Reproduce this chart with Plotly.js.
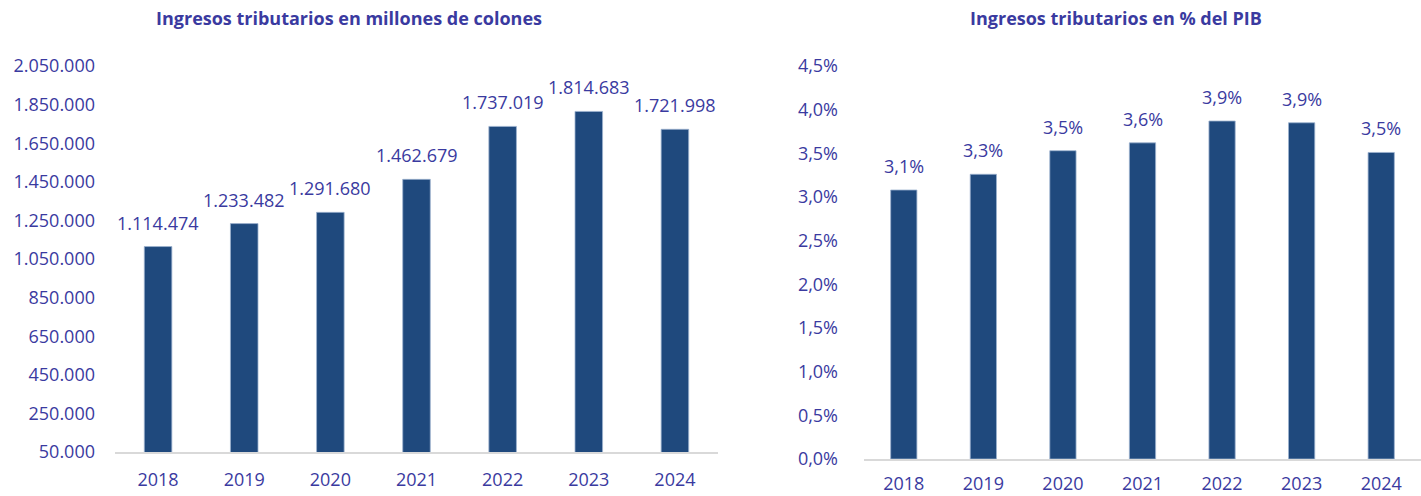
<!DOCTYPE html>
<html><head><meta charset="utf-8">
<script src="https://cdn.plot.ly/plotly-3.0.1.min.js"></script>
<style>html,body{margin:0;padding:0;background:#fff}#c{width:1421px;height:496px}</style>
</head><body><div id="c"></div>
<script>
const years = ['2018','2019','2020','2021','2022','2023','2024'];
const colones = [1114474, 1233482, 1291680, 1462679, 1737019, 1814683, 1721998];
const pctPIB = [3.08, 3.26, 3.53, 3.62, 3.87, 3.85, 3.51];
const titleLeft = 'Ingresos tributarios en millones de colones';
const titleRight = 'Ingresos tributarios en % del PIB';

const txtColor = '#3A3AA0';
const barColor = '#1F497D';
const font = {family: 'Open Sans, sans-serif', size: 18, color: txtColor};

const traces = [
  {type:'bar', x: years, y: colones, xaxis:'x', yaxis:'y', width:0.32,
   marker:{color:barColor, line:{color:'#9DB3CF', width:0.8}}, hoverinfo:'none'},
  {type:'bar', x: years, y: pctPIB, xaxis:'x2', yaxis:'y2', width:0.33,
   marker:{color:barColor, line:{color:'#9DB3CF', width:0.8}}, hoverinfo:'none'}
];

function fmtThousands(v){ return Math.round(v).toString().replace(/\B(?=(\d{3})+(?!\d))/g,'.'); }
function fmtPct(v){ return v.toFixed(1).replace('.',',') + '%'; }

const annotations = [];
years.forEach((yr,i)=>{
  annotations.push({x:yr, y:colones[i], xref:'x', yref:'y', text:fmtThousands(colones[i]),
    showarrow:false, yanchor:'bottom', yshift:10, font:font});
  annotations.push({x:yr, y:pctPIB[i], xref:'x2', yref:'y2', text:fmtPct(pctPIB[i]),
    showarrow:false, yanchor:'bottom', yshift:10, font:font});
});
const tfont = {family:'Open Sans, sans-serif', size:18, color:txtColor};
annotations.push({xref:'paper', yref:'paper', x:349/1421, y:1-18/496, yanchor:'middle', xanchor:'center',
  text:'<b>'+titleLeft+'</b>', showarrow:false, font:tfont});
annotations.push({xref:'paper', yref:'paper', x:1116/1421, y:1-18/496, yanchor:'middle', xanchor:'center',
  text:'<b>'+titleRight+'</b>', showarrow:false, font:tfont});

const layout = {
  width:1421, height:496,
  margin:{l:0, r:0, t:0, b:0},
  paper_bgcolor:'#fff', plot_bgcolor:'#fff',
  separators: ',.',
  showlegend:false,
  font: font,
  xaxis:{domain:[115/1421, 718/1421], anchor:'y', showline:true, linecolor:'#D9D9D9', linewidth:1.5,
    ticks:'', showgrid:false, zeroline:false, tickfont:font, ticklabelstandoff:11},
  yaxis:{domain:[44/496, 430/496], anchor:'x', range:[50000, 2050000], tick0:50000, dtick:200000,
    tickformat:',d', showgrid:false, zeroline:false, showline:false, ticks:'', tickfont:font,
    ticklabelstandoff:19},
  xaxis2:{domain:[864/1421, 1], anchor:'y2', showline:true, linecolor:'#D9D9D9', linewidth:1.5,
    ticks:'', showgrid:false, zeroline:false, tickfont:font, ticklabelstandoff:8},
  yaxis2:{domain:[37/496, 430/496], anchor:'x2', range:[0, 4.5], dtick:0.5, tickformat:'.1f', ticksuffix:'%',
    showgrid:false, zeroline:false, showline:false, ticks:'', tickfont:font, ticklabelstandoff:25},
  annotations: annotations
};
Plotly.newPlot('c', traces, layout, {displayModeBar:false, staticPlot:true});
</script></body></html>
